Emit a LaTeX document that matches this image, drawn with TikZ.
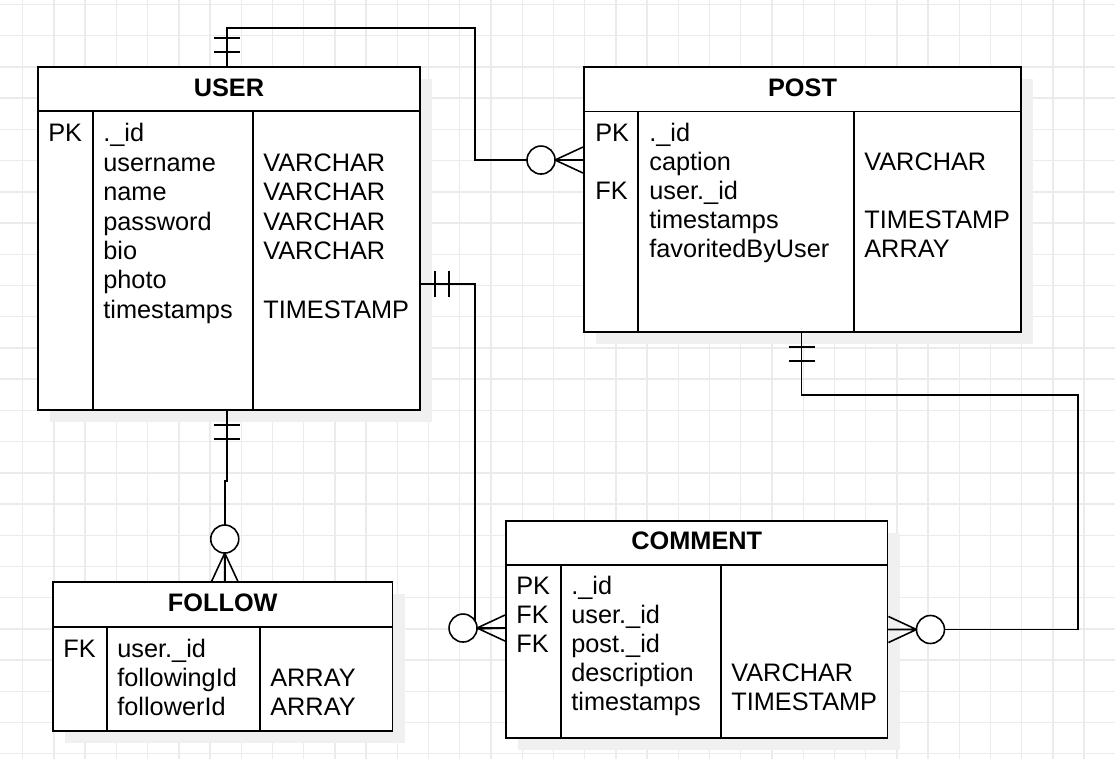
\documentclass[tikz,border=0pt]{standalone}
\usepackage{fontspec}
\setmainfont{Liberation Sans}
\usetikzlibrary{calc}

\def\px{0.02cm}

\begin{document}
\begin{tikzpicture}[
    x=0.02cm, y=-0.02cm,
    gridline/.style={draw=black!8, line width=0.8pt},
    tbl/.style={draw, line width=1.1pt, fill=white, inner sep=0pt},
    tshadow/.style={fill=black!6},
    rowtext/.style={anchor=base west, inner sep=0pt, font=\fontsize{14.4}{17}\selectfont},
    hdrtext/.style={anchor=base, inner sep=0pt, font=\fontsize{14.4}{17}\selectfont\bfseries},
    rel/.style={line width=0.9pt},
    one/.pic={\draw[rel] (14,-13) -- (14,13) (28,-13) -- (28,13);},
    zeromany/.pic={\draw[rel] (0,-13) -- (28,0) -- (0,13) (0,0) -- (28,0);
                   \draw[rel, fill=white] (42,0) circle (14);}
]
    \useasboundingbox (0,0) rectangle (1115,759);
    \fill[white] (0,0) rectangle (1115,759);

    % background grid
    \foreach \i in {0,...,35} \draw[gridline] ({22.7+31.22*\i},0) -- ++(0,759);
    \foreach \j in {0,...,24} \draw[gridline] (0,{4.5+31.22*\j}) -- ++(1115,0);

    % shadows
    \fill[tshadow] (50,79) rectangle (432,422);
    \fill[tshadow] (596,79) rectangle (1033,344);
    \fill[tshadow] (518,533) rectangle (900,750);
    \fill[tshadow] (65,594) rectangle (405,743);

    % tables
    \node[tbl, minimum width={382*\px}, minimum height={343*\px}] (user) at (229,238.5) {};
    \node[tbl, minimum width={437*\px}, minimum height={265*\px}] (post) at (802.5,199.5) {};
    \node[tbl, minimum width={381.5*\px}, minimum height={217*\px}] (comment) at (696.75,629.5) {};
    \node[tbl, minimum width={339.5*\px}, minimum height={149*\px}] (follow) at (222.75,656.5) {};

    \draw[line width=1.1pt] (38,111) -- (420,111) (93,111) -- (93,410) (253,111) -- (253,410);
    \draw[line width=1.1pt] (584,111.5) -- (1021,111.5) (638,111.5) -- (638,332) (854,111.5) -- (854,332);
    \draw[line width=1.1pt] (506,565) -- (887.5,565) (561,565) -- (561,738) (721,565) -- (721,738);
    \draw[line width=1.1pt] (53,627) -- (392.5,627) (107,627) -- (107,731) (260,627) -- (260,731);

    % headers
    \node[hdrtext] (userHead) at (229,96.5) {USER};
    \node[hdrtext] (postHead) at (802.5,96.5) {POST};
    \node[hdrtext] (commentHead) at (696.75,549.5) {COMMENT};
    \node[hdrtext] (followHead) at (222.75,611.5) {FOLLOW};

    % USER rows
    \node[rowtext] (userKey) at (48,142) {PK};
    \foreach \t [count=\i from 0] in {.\_id, username, name, password, bio, photo, timestamps}
        \node[rowtext] (userName\i) at (103,{142+29.4*\i}) {\t};
    \foreach \i/\t in {1/VARCHAR, 2/VARCHAR, 3/VARCHAR, 4/VARCHAR, 6/TIMESTAMP}
        \node[rowtext] (userType\i) at (263,{142+29.4*\i}) {\t};

    % POST rows
    \foreach \i/\t in {0/PK, 2/FK}
        \node[rowtext] (postKey\i) at (595,{142+28.9*\i}) {\t};
    \foreach \t [count=\i from 0] in {.\_id, caption, user.\_id, timestamps, favoritedByUser}
        \node[rowtext] (postName\i) at (649,{142+28.9*\i}) {\t};
    \foreach \i/\t in {1/VARCHAR, 3/TIMESTAMP, 4/ARRAY}
        \node[rowtext] (postType\i) at (864,{142+28.9*\i}) {\t};

    % COMMENT rows
    \foreach \t [count=\i from 0] in {PK, FK, FK}
        \node[rowtext] (commentKey\i) at (516,{594+29*\i}) {\t};
    \foreach \t [count=\i from 0] in {.\_id, user.\_id, post.\_id, description, timestamps}
        \node[rowtext] (commentName\i) at (571,{594+29*\i}) {\t};
    \foreach \i/\t in {3/VARCHAR, 4/TIMESTAMP}
        \node[rowtext] (commentType\i) at (731,{594+29*\i}) {\t};

    % FOLLOW rows
    \node[rowtext] (followKey) at (63,657) {FK};
    \foreach \t [count=\i from 0] in {user.\_id, followingId, followerId}
        \node[rowtext] (followName\i) at (117,{657+29.2*\i}) {\t};
    \foreach \i/\t in {1/ARRAY, 2/ARRAY}
        \node[rowtext] (followType\i) at (270,{657+29.2*\i}) {\t};

    % relations
    \draw[rel] ($(user.north)+(-2,0)$) |- (475,28) |- ($(post.north west)+(0,94)$);
    \pic[rotate=90] at ($(user.north)+(-2,0)$) {one};
    \pic[rotate=180] at ($(post.north west)+(0,94)$) {zeromany};

    \draw[rel] ($(user.north east)+(0,218)$) -| (475,629) -- ($(comment.north west)+(0,108)$);
    \pic at ($(user.north east)+(0,218)$) {one};
    \pic[rotate=180] at ($(comment.north west)+(0,108)$) {zeromany};

    \draw[rel] ($(user.south)+(-2,0)$) -- ++(0,70) -| ($(follow.north)+(2,0)$);
    \pic[rotate=-90] at ($(user.south)+(-2,0)$) {one};
    \pic[rotate=90] at ($(follow.north)+(2,0)$) {zeromany};

    \draw[rel] ($(post.south)+(-1,0)$) |- (1078,395) |- (comment.east);
    \pic[rotate=-90] at ($(post.south)+(-1,0)$) {one};
    \pic at (comment.east) {zeromany};
\end{tikzpicture}
\end{document}
